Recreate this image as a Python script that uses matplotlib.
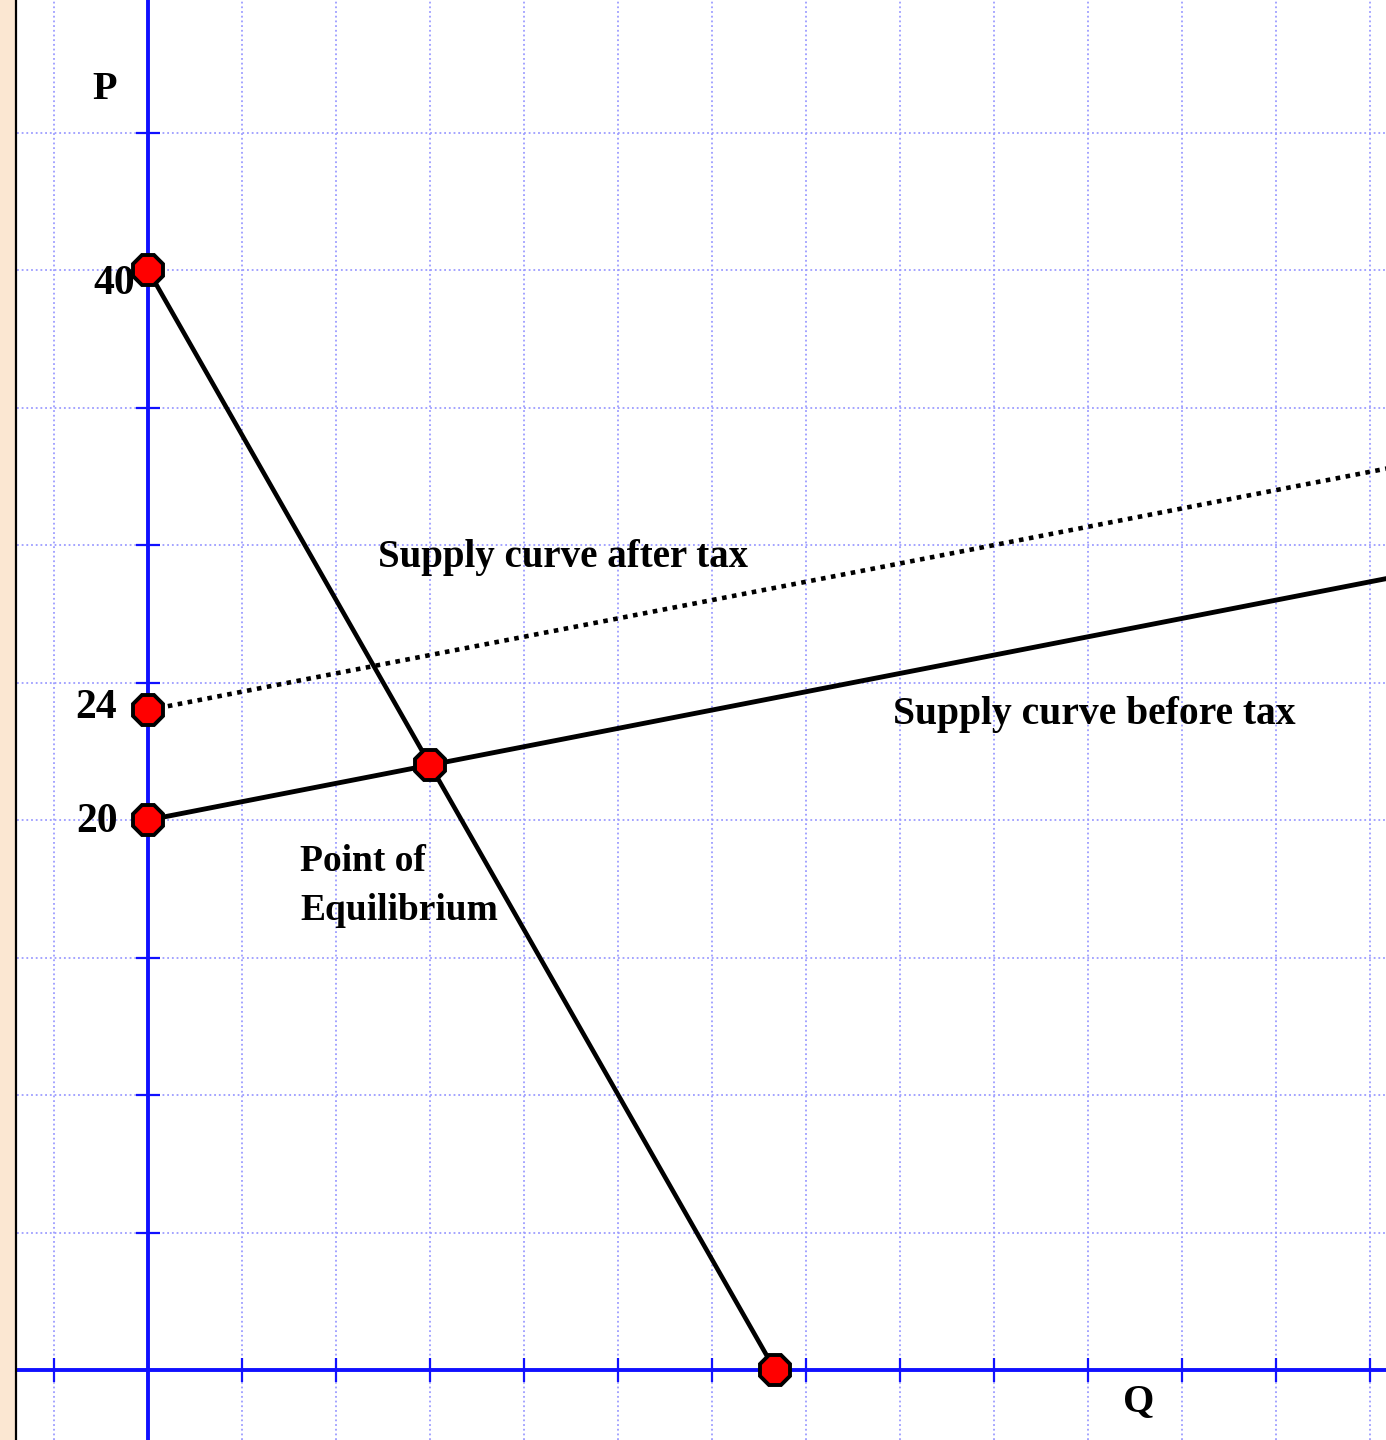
import matplotlib
matplotlib.use("Agg")
import matplotlib.pyplot as plt
from matplotlib.lines import Line2D

# demand and supply (Q in grid units, P in price units)
demand_q = [0, 6.67]
demand_p = [40, 0]
supply_q = [0, 3, 14]
supply_p = [20, 22, 29.33]
supply_tax_q = [0, 14]
supply_tax_p = [24, 33.33]
points_q = [0, 0, 0, 3, 6.67]
points_p = [40, 24, 20, 22, 0]
price_labels = ["40", "24", "20"]
price_values = [40, 24, 20]

x_ticks = list(range(-1, 14))
y_ticks = list(range(0, 50, 5))

plt.rcParams['font.family'] = ['Liberation Serif', 'DejaVu Serif']

W, H = 1386, 1440
fig = plt.figure(figsize=(W / 100, H / 100), dpi=100)
fig.patch.set_facecolor('#fbe7d2')
left = 17 / W
ax = fig.add_axes([left, 0, 1 - left, 1])
ax.set_facecolor('white')
fig.add_artist(Line2D([15.5 / W, 15.5 / W], [0, 1], transform=fig.transFigure,
                      color='black', lw=1.6))

ax.set_xlim(-1.394, 13.17)
ax.set_ylim(-2.545, 49.82)

for side in ['top', 'right']:
    ax.spines[side].set_visible(False)
for side in ['left', 'bottom']:
    ax.spines[side].set_position(('data', 0))
    ax.spines[side].set_color('#1010ff')
    ax.spines[side].set_linewidth(2.8)
    ax.spines[side].set_zorder(2)

ax.set_xticks(x_ticks)
ax.set_yticks(y_ticks)
ax.set_xticklabels([])
ax.set_yticklabels([])
ax.tick_params(direction='inout', length=17, width=1.6, color='#1010ff')
ax.grid(True, color='#9c9cff', linestyle=(0, (1, 1.6)), linewidth=1.3, zorder=0)
ax.set_axisbelow(True)

ax.plot(demand_q, demand_p, color='black', lw=3.3, zorder=3)
ax.plot(supply_q, supply_p, color='black', lw=3.5, zorder=3)
ax.plot(supply_tax_q, supply_tax_p, color='black', lw=3.3, zorder=3,
        linestyle=(0, (1, 1.2)))
ax.plot(points_q, points_p, linestyle='none', marker='8', markersize=24,
        markerfacecolor='#ff0000', markeredgecolor='black', markeredgewidth=2.8,
        zorder=5, clip_on=False)

label_x = [-0.14, -0.33, -0.32]
label_dy = [-0.51, 0.07, -0.07]
for lab, val, lx, dy in zip(price_labels, price_values, label_x, label_dy):
    ax.text(lx, val + dy, lab, ha='right', va='center', fontsize=30,
            fontweight='bold', zorder=4)

ax.text(-0.46, 46.55, "P", ha='center', va='center', fontsize=29, fontweight='bold')
ax.text(10.54, -1.15, "Q", ha='center', va='center', fontsize=29, fontweight='bold')
ax.text(2.45, 29.55, "Supply curve after tax", ha='left', va='center',
        fontsize=28, fontweight='bold')
ax.text(7.93, 23.85, "Supply curve before tax", ha='left', va='center',
        fontsize=28.5, fontweight='bold')
ax.text(1.62, 17.6, "Point of\nEquilibrium", ha='left', va='center',
        fontsize=27, fontweight='bold', linespacing=1.5)

fig.savefig('out.png', dpi=100, facecolor=fig.get_facecolor())
